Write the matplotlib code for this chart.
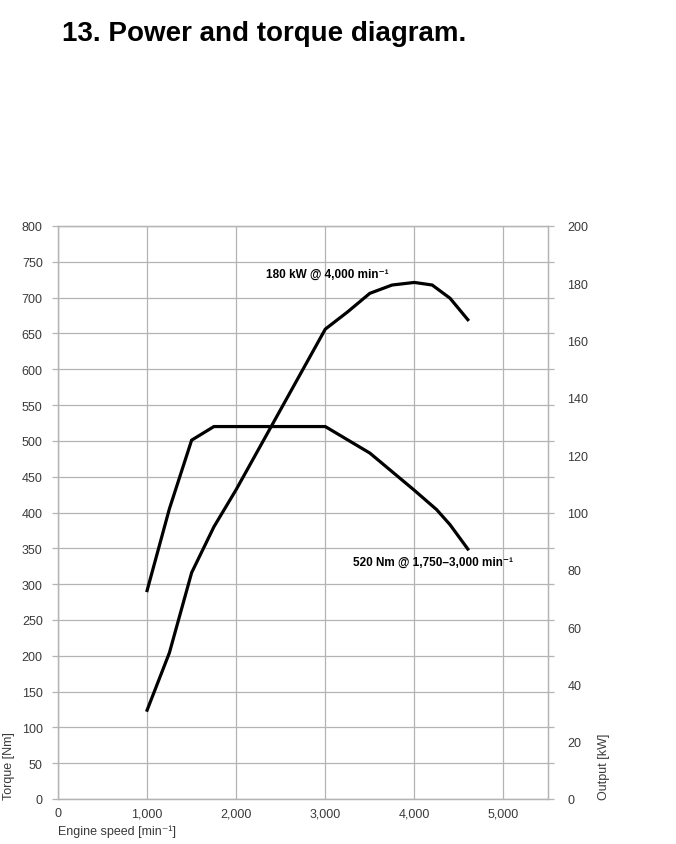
import numpy as np
import matplotlib
matplotlib.use('Agg')
import matplotlib.pyplot as plt

plt.rcParams['font.family'] = ['Liberation Sans', 'DejaVu Sans']

# torque curve [Nm]
torque_rpm = [1000, 1250, 1500, 1750, 3000, 3500, 4000, 4250, 4400, 4600]
torque_nm = [291, 405, 501, 520, 520, 483, 431, 404, 383, 349]

# power curve [kW]
power_rpm = [1000, 1250, 1500, 1750, 2000, 2500, 3000, 3250, 3500, 3750, 4000, 4200, 4400, 4600]
power_kw = [31, 51, 79, 95, 108, 136, 164, 170, 176.5, 179.4, 180.3, 179.4, 174.8, 167.3]

x_ticks = [0, 1000, 2000, 3000, 4000, 5000]
x_labels = ['0', '1,000', '2,000', '3,000', '4,000', '5,000']
torque_ticks = list(range(0, 801, 50))
power_ticks = list(range(0, 201, 20))

grid_c = '#b4b4b4'
text_c = '#3a3a3a'

fig = plt.figure(figsize=(6.76, 8.45), dpi=100)
ax = fig.add_axes([58/676, 1-800/845, (548-58)/676, (800-227)/845])
ax2 = ax.twinx()

ax.set_xlim(0, 5500)
ax.set_ylim(0, 800)
ax2.set_ylim(0, 200)

ax.set_xticks(x_ticks)
ax.set_xticklabels(x_labels)
ax.set_yticks(torque_ticks)
ax2.set_yticks(power_ticks)

ax.grid(True, color=grid_c, lw=0.9)
ax.set_axisbelow(True)
for a in (ax, ax2):
    for s in a.spines.values():
        s.set_color(grid_c)
        s.set_linewidth(0.9)

ax.tick_params(axis='y', left=True, right=True, direction='out', length=4,
               color=grid_c, width=0.9, pad=7, labelsize=9, labelcolor=text_c)
ax.tick_params(axis='x', length=0, pad=6, labelsize=9, labelcolor=text_c)
ax2.tick_params(axis='y', length=0, pad=14, labelsize=9, labelcolor=text_c)

ax.plot(torque_rpm, torque_nm, color='black', lw=2.3, solid_joinstyle='miter')
ax2.plot(power_rpm, power_kw, color='black', lw=2.3, solid_joinstyle='miter')

ax.text(2330, 733, '180 kW @ 4,000 min⁻¹', fontsize=8.5, fontweight='bold',
        va='center', ha='left')
ax.text(3315, 331, '520 Nm @ 1,750–3,000 min⁻¹', fontsize=8.5, fontweight='bold',
        va='center', ha='left')

ax.set_xlabel('Engine speed [min⁻¹]', loc='left', fontsize=9, color=text_c, labelpad=4)
ax.set_ylabel('Torque [Nm]', loc='bottom', fontsize=9, color=text_c, labelpad=5)
ax2.set_ylabel('Output [kW]', loc='bottom', fontsize=9, color=text_c, labelpad=7)

fig.text(62/676, 1-34/845, '13. Power and torque diagram.', fontsize=20,
         fontweight='bold', va='center', ha='left', color='black')

fig.savefig('out.png', dpi=100)
